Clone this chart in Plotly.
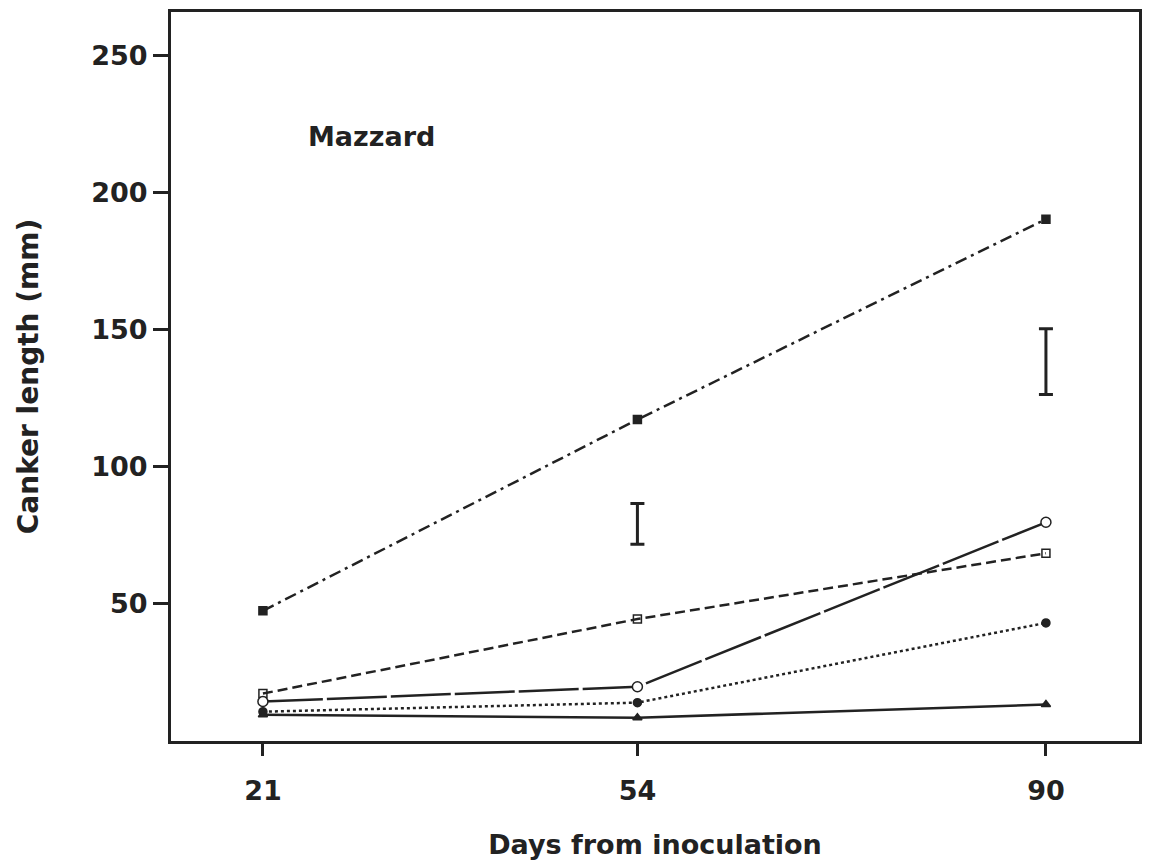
import plotly.graph_objects as go

days = [21, 54, 90]
series_a = [47.5, 117.3, 190.4]   # filled square, dash-dot
series_b = [17.3, 44.5, 68.5]     # open square, dashed
series_c = [14.4, 19.8, 79.8]     # open circle, long-dash solid
series_d = [10.7, 14.0, 43.1]     # filled circle, dotted
series_e = [9.6, 8.5, 13.3]       # triangle, solid

err_days = [54, 90]
err_center = [79.25, 138.4]
err_half = [7.45, 12.0]

tick_vals_y = [50, 100, 150, 200, 250]
tick_vals_x = [21, 54, 90]

ink = "#222222"
fig = go.Figure()

def add(y, dash, symbol, mcolor, lw=2.5, size=8):
    fig.add_trace(go.Scatter(
        x=days, y=y, mode="lines+markers",
        line=dict(color=ink, width=lw, dash=dash),
        marker=dict(symbol=symbol, size=size, color=mcolor,
                    line=dict(color=ink, width=1.5)),
        showlegend=False))

add(series_a, "12px,5px,3px,5px", "square", ink)
add(series_b, "10px,5px", "square-open", ink)
add(series_c, "60px,4px", "circle", "white", size=10)
add(series_d, "3px,3px", "circle", ink)
add(series_e, "solid", "triangle-up", ink)

fig.add_trace(go.Scatter(
    x=err_days, y=err_center, mode="markers",
    marker=dict(size=1, color="rgba(0,0,0,0)"),
    error_y=dict(type="data", array=err_half, visible=True,
                 color=ink, thickness=3, width=7),
    showlegend=False))

font_family = "DejaVu Sans, Arial, sans-serif"

fig.update_layout(
    width=1144, height=857,
    paper_bgcolor="white", plot_bgcolor="white",
    margin=dict(l=163, r=13, t=1, b=124),
    font=dict(family=font_family, color=ink),
    xaxis=dict(range=[12.9, 98.2], tickvals=tick_vals_x,
               showgrid=False, zeroline=False,
               showline=True, linecolor=ink, linewidth=3, mirror=True,
               ticks="outside", ticklen=12, tickwidth=3, tickcolor=ink,
               ticklabelstandoff=12,
               tickfont=dict(size=27, family=font_family, weight="bold"),
               title=dict(text="<b>Days from inoculation</b>", font=dict(size=27), standoff=30)),
    yaxis=dict(range=[0, 266], tickvals=tick_vals_y,
               showgrid=False, zeroline=False,
               showline=True, linecolor=ink, linewidth=3, mirror=True,
               ticks="outside", ticklen=15, tickwidth=3, tickcolor=ink,
               tickfont=dict(size=27, family=font_family, weight="bold"),
               title=dict(text="<b>Canker length (mm)</b>", font=dict(size=28), standoff=45)),
    annotations=[dict(x=30.6, y=220.5, xref="x", yref="y", text="<b>Mazzard</b>",
                      showarrow=False, font=dict(size=27, color=ink))],
)

fig.write_html("out.html")
